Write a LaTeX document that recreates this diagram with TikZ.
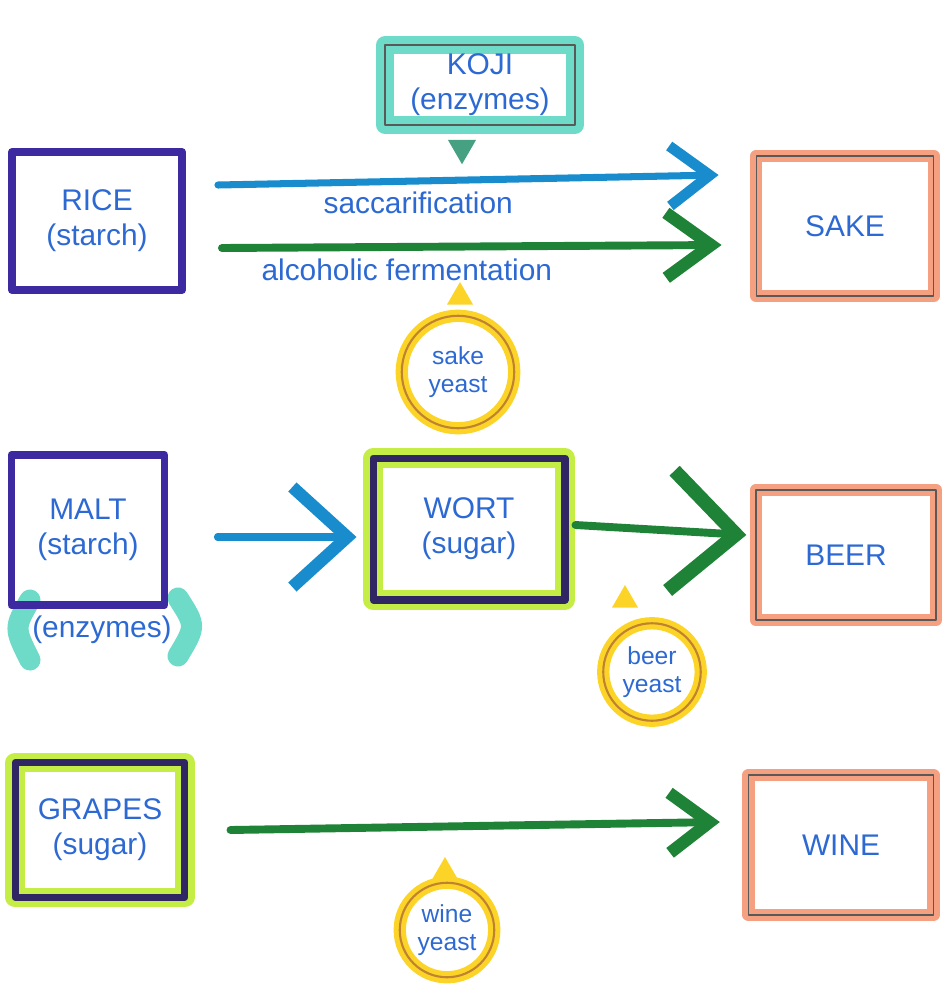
\documentclass[tikz,border=0pt]{standalone}
\usepackage{fontspec}
\setmainfont{Liberation Sans}
\usetikzlibrary{arrows.meta,shapes.geometric}

\definecolor{ink}{RGB}{45,105,210}
\definecolor{starch}{RGB}{62,42,160}
\definecolor{navy}{RGB}{48,38,100}
\definecolor{limehl}{RGB}{196,238,70}
\definecolor{salmon}{RGB}{246,160,130}
\definecolor{tealhl}{RGB}{110,218,200}
\definecolor{tealdk}{RGB}{70,160,130}
\definecolor{sun}{RGB}{252,212,40}
\definecolor{ochre}{RGB}{190,130,50}
\definecolor{sacc}{RGB}{25,140,205}
\definecolor{ferm}{RGB}{30,130,55}

\newcommand\hand{\fontsize{17}{20}\selectfont}
\newcommand\handsm{\fontsize{14}{16}\selectfont}

\begin{document}
\begin{tikzpicture}[x=0.02cm,y=-0.02cm,line cap=round,line join=round,
  every node/.style={text=ink,font=\hand,align=center},
  startbox/.style={draw=starch,line width=4.5pt},
  sugarbox/.style={draw=navy,line width=4pt,preaction={draw=limehl,line width=11pt}},
  productbox/.style={draw=gray!70!black,line width=0.8pt,preaction={draw=salmon,line width=7pt}},
  enzymebox/.style={draw=gray!70!black,line width=0.8pt,preaction={draw=tealhl,line width=10pt}},
  yeast/.style={circle,draw=ochre,line width=1.2pt,preaction={draw=sun,line width=7pt},font=\handsm},
  tipmark/.style={regular polygon,regular polygon sides=3,fill=sun,inner sep=0pt,minimum size=0.6cm},
  bluearrow/.style={draw=sacc,line width=4pt},
  greenarrow/.style={draw=ferm,line width=4.5pt}]
  \useasboundingbox (0,0) rectangle (943,984);

  % sake row
  \node[startbox,minimum width=3.4cm,minimum height=2.76cm] (rice) at (97,221) {RICE\\(starch)};
  \node[enzymebox,minimum width=3.8cm,minimum height=1.6cm] (koji) at (480,85) {KOJI\\(enzymes)};
  \node[tipmark,fill=tealdk,shape border rotate=180,minimum size=0.65cm] (kojitip) at (462,148) {};
  \node[productbox,minimum width=3.55cm,minimum height=2.8cm] (sake) at (845,226) {SAKE};
  \draw[bluearrow,-{Straight Barb[length=8mm,width=12mm,line width=6pt]}] ([shift={(32,-36)}]rice.east)
    -- node[pos=0.4,below=1pt] (saccl) {saccarification} ([shift={(-37,-51)}]sake.west);
  \draw[greenarrow,-{Straight Barb[length=9mm,width=13mm,line width=7pt]}] ([shift={(36,27)}]rice.east)
    -- node[pos=0.37,below=1pt] (ferml) {alcoholic fermentation} ([shift={(-34,19)}]sake.west);
  \node[tipmark] (sakeyeasttip) at (460,297) {};
  \node[yeast,minimum size=2.25cm] (sakeyeast) at (458,372) {sake\\yeast};

  % beer row
  \draw[tealhl,line width=12pt] (30,600) .. controls (14,628) .. (30,660);
  \draw[tealhl,line width=12pt] (178,598) .. controls (196,626) .. (178,656);
  \node[startbox,minimum width=3.06cm,minimum height=3cm] (malt) at (88,530) {MALT\\(starch)};
  \node (maltenz) at (102,630) {(enzymes)};
  \node[sugarbox,minimum width=3.84cm,minimum height=2.84cm] (wort) at (469,529) {WORT\\(sugar)};
  \node[productbox,minimum width=3.6cm,minimum height=2.6cm] (beer) at (846,555) {BEER};
  \draw[bluearrow,-{Straight Barb[length=11mm,width=20mm,line width=7pt]}] ([shift={(49,7)}]malt.east) -- ([shift={(-13,8)}]wort.west);
  \draw[greenarrow,-{Straight Barb[length=13mm,width=24mm,line width=8pt]}] ([shift={(7,-4)}]wort.east) -- ([shift={(-9,-20)}]beer.west);
  \node[tipmark] (beeryeasttip) at (625,600) {};
  \node[yeast,minimum size=1.95cm] (beeryeast) at (652,672) {beer\\yeast};

  % wine row
  \node[sugarbox,minimum width=3.4cm,minimum height=2.7cm] (grapes) at (100,830) {GRAPES\\(sugar)};
  \node[productbox,minimum width=3.7cm,minimum height=2.8cm] (wine) at (841,845) {WINE};
  \draw[greenarrow,-{Straight Barb[length=8mm,width=12mm,line width=7pt]}] ([shift={(42,0)}]grapes.east) -- ([shift={(-28,-23)}]wine.west);
  \node[tipmark] (wineyeasttip) at (445,872) {};
  \node[yeast,minimum size=1.75cm] (wineyeast) at (447,930) {wine\\yeast};
\end{tikzpicture}
\end{document}
